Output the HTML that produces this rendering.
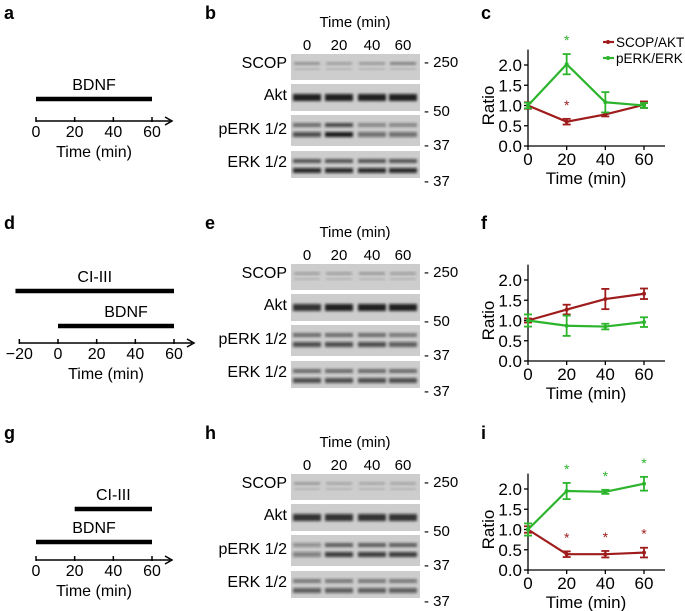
<!DOCTYPE html>
<html><head><meta charset="utf-8"><style>
body{margin:0;background:#fff}
svg{display:block;font-family:"Liberation Sans",sans-serif}
</style></head><body>
<svg id="fig" width="685" height="611" viewBox="0 0 685 611" xmlns="http://www.w3.org/2000/svg">
<defs><filter id="blur" x="-20%" y="-50%" width="140%" height="200%"><feGaussianBlur stdDeviation="1.2"/></filter></defs>
</svg>
<script>
const NS='http://www.w3.org/2000/svg';
const svg=document.getElementById('fig');
function mk(tag,attrs,parent,text){const e=document.createElementNS(NS,tag);for(const k in attrs)e.setAttribute(k,attrs[k]);if(text!==undefined)e.textContent=text;(parent||svg).appendChild(e);return e;}

// ---- chart data ----
const timePoints=[0,20,40,60];
const yTicks=[0.0,0.5,1.0,1.5,2.0];
const yTickLabels=['0.0','0.5','1.0','1.5','2.0'];
const xTickLabels=['0','20','40','60'];
const scopC=[1.0,0.6,0.78,1.02];
const scopCErr=[0.08,0.07,0.05,0.08];
const erkC=[1.0,2.02,1.08,1.0];
const erkCErr=[0.07,0.25,0.25,0.06];
const scopF=[1.0,1.27,1.53,1.66];
const scopFErr=[0.05,0.12,0.25,0.13];
const erkF=[1.0,0.87,0.85,0.96];
const erkFErr=[0.15,0.25,0.07,0.12];
const scopI=[1.0,0.39,0.39,0.43];
const scopIErr=[0.08,0.07,0.08,0.12];
const erkI=[1.0,1.95,1.93,2.13];
const erkIErr=[0.15,0.2,0.05,0.17];
const starsScopC=[false,true,false,false];
const starsErkC=[false,true,false,false];
const starsScopI=[false,true,true,true];
const starsErkI=[false,true,true,true];
const RED='#9e1c1c',GREEN='#2cb52c';

// panel letters
[['a',4,19],['b',205,19],['c',481,19],['d',4,229],['e',205,229],['f',481,229],['g',4,439],['h',205,439],['i',481,439]].forEach(([t,x,y])=>{
  const e=mk('text',{x:x,y:y,'font-size':18,'font-weight':'bold'},svg,t);
  
  
});

// ---- timelines ----
function timeline(name,base,ticks,x0,bars){
  const g=mk('g',{});
  
  
  const sx=v=>x0+v*(116/60);
  mk('line',{x1:sx(ticks[0]),y1:base,x2:sx(60)+18,y2:base,stroke:'#000','stroke-width':1.5},g);
  mk('path',{d:`M${sx(60)+13} ${base-4} L${sx(60)+20} ${base} L${sx(60)+13} ${base+4}`,fill:'none',stroke:'#000','stroke-width':1.5},g);
  ticks.forEach(t=>{
    mk('line',{x1:sx(t),y1:base-4,x2:sx(t),y2:base+1,stroke:'#000','stroke-width':1.5},g);
    mk('text',{x:sx(t),y:base+16,'font-size':16,'text-anchor':'middle'},g,t<0?'\u2212'+(-t):String(t));
  });
  mk('text',{x:sx(30)+ (ticks[0]<0?-10:0),y:base+36,'font-size':16,'text-anchor':'middle'},g,'Time (min)');
  bars.forEach(([lbl,a,b,y])=>{
    mk('line',{x1:sx(a),y1:y,x2:sx(b),y2:y,stroke:'#000','stroke-width':4.5},g);
    mk('text',{x:(sx(a)+sx(b))/2+ (lbl==='BDNF'&&a===0&&ticks[0]<0?10:0),y:y-9,'font-size':16,'text-anchor':'middle'},g,lbl);
  });
}
timeline('timeline-a',121,[0,20,40,60],36,[['BDNF',0,60,99]]);
timeline('timeline-d',343,[-20,0,20,40,60],58,[['CI-III',-22,60,291],['BDNF',0,60,326]]);
timeline('timeline-g',560,[0,20,40,60],36,[['CI-III',20,60,509],['BDNF',0,60,542]]);

// ---- blots ----
const laneX=[307,339,372,403];
function blot(name,dy,intens){
  const g=mk('g',{});
  
  
  mk('text',{x:355,y:dy+27,'font-size':15,'text-anchor':'middle'},g,'Time (min)');
  xTickLabels.forEach((t,i)=>mk('text',{x:laneX[i],y:dy+50,'font-size':15,'text-anchor':'middle'},g,t));
  const rows=[['SCOP',54,80,68],['Akt',84,111,100],['pERK 1/2',115,146,134],['ERK 1/2',151,178,167]];
  rows.forEach(([lbl,t,b,ly],ri)=>{
    mk('rect',{x:291,y:dy+t,width:129,height:b-t,fill:'#cdcdcd'},g);
    mk('text',{x:287,y:dy+ly,'font-size':16,'text-anchor':'end'},g,lbl);
    laneX.forEach((x,li)=>{
      const k=intens[ri][li];
      if(ri===0){
        mk('rect',{x:x-13,y:dy+t+8,width:26,height:3,fill:'#444','fill-opacity':0.55*k,filter:'url(#blur)'},g);
        mk('rect',{x:x-13,y:dy+t+14,width:26,height:2,fill:'#777','fill-opacity':0.35,filter:'url(#blur)'},g);
      } else if(ri===1){
        mk('rect',{x:x-14,y:dy+t+10,width:28,height:7,fill:'#111','fill-opacity':0.9*k,filter:'url(#blur)'},g);
      } else {
        mk('rect',{x:x-14,y:dy+t+8,width:28,height:4,fill:'#222','fill-opacity':0.7*k,filter:'url(#blur)'},g);
        mk('rect',{x:x-14,y:dy+t+17,width:28,height:5,fill:'#111','fill-opacity':0.85*k,filter:'url(#blur)'},g);
      }
    });
  });
  [['250',62],['50',111],['37',145],['37',181]].forEach(([m,y])=>{
    mk('text',{x:424,y:dy+y+5,'font-size':15},g,'- '+m);
  });
}
blot('western-blot-b',0,[[0.8,0.6,0.7,1],[1,1,1,1],[0.8,1.1,0.6,0.6],[1,1,1,1]]);
blot('western-blot-e',210,[[0.6,0.6,0.7,0.6],[0.9,1,1,1],[0.8,0.8,0.8,0.7],[0.8,0.8,0.8,0.8]]);
blot('western-blot-h',420,[[0.7,0.5,0.5,0.5],[0.9,0.9,0.9,0.9],[0.5,0.9,0.9,0.9],[0.7,0.7,0.7,0.7]]);

// ---- line charts ----
function chart(name,base,scop,scopE,erk,erkE,sS,sE,legend){
  const g=mk('g',{});
  
  
  const sx=v=>528+v*(116/60);
  const sy=v=>base-v*40.5;
  mk('line',{x1:528,y1:sy(2.38),x2:528,y2:base,stroke:'#000','stroke-width':1.3},g);
  mk('line',{x1:528,y1:base,x2:665,y2:base,stroke:'#000','stroke-width':1.3},g);
  yTicks.forEach((v,i)=>{
    mk('line',{x1:524,y1:sy(v),x2:528,y2:sy(v),stroke:'#000','stroke-width':1.3},g);
    mk('text',{x:522,y:sy(v)+6,'font-size':17,'text-anchor':'end'},g,yTickLabels[i]);
  });
  timePoints.forEach((t,i)=>{
    mk('line',{x1:sx(t),y1:base,x2:sx(t),y2:base+4,stroke:'#000','stroke-width':1.3},g);
    mk('text',{x:sx(t),y:base+19,'font-size':17,'text-anchor':'middle'},g,xTickLabels[i]);
  });
  mk('text',{x:586,y:base+38,'font-size':17,'text-anchor':'middle'},g,'Time (min)');
  mk('text',{x:0,y:0,'font-size':17,'text-anchor':'middle',transform:`translate(494 ${sy(1.0)}) rotate(-90)`},g,'Ratio');
  [[scop,scopE,RED,sS,'scop-akt'],[erk,erkE,GREEN,sE,'perk-erk']].forEach(([vals,errs,col,stars,nm])=>{
    const s=mk('g',{},g);
    
    
    mk('polyline',{points:vals.map((v,i)=>sx(timePoints[i])+','+sy(v)).join(' '),fill:'none',stroke:col,'stroke-width':2.2},s);
    vals.forEach((v,i)=>{
      const x=sx(timePoints[i]);
      mk('line',{x1:x,y1:sy(v-errs[i]),x2:x,y2:sy(v+errs[i]),stroke:col,'stroke-width':1.8},s);
      mk('line',{x1:x-4,y1:sy(v-errs[i]),x2:x+4,y2:sy(v-errs[i]),stroke:col,'stroke-width':1.8},s);
      mk('line',{x1:x-4,y1:sy(v+errs[i]),x2:x+4,y2:sy(v+errs[i]),stroke:col,'stroke-width':1.8},s);
      mk('circle',{cx:x,cy:sy(v),r:2,fill:col},s);
      if(stars[i]){
        const st=mk('text',{x:x,y:sy(v+errs[i])-9,'font-size':14,'text-anchor':'middle',fill:col},s,'*');
        
        
      }
    });
  });
  if(legend){
    [['SCOP/AKT',RED,47],['pERK/ERK',GREEN,63]].forEach(([l,c,y])=>{
      const e=mk('g',{},g);
      
      
      mk('line',{x1:603,y1:y-5,x2:614,y2:y-5,stroke:c,'stroke-width':2.2},e);
      mk('circle',{cx:608,cy:y-5,r:2,fill:c},e);
      mk('text',{x:616,y:y,'font-size':13.5},e,l);
    });
  }
}
chart('line-chart-c',146,scopC,scopCErr,erkC,erkCErr,starsScopC,starsErkC,true);
chart('line-chart-f',361,scopF,scopFErr,erkF,erkFErr,[false,false,false,false],[false,false,false,false],false);
chart('line-chart-i',570,scopI,scopIErr,erkI,erkIErr,starsScopI,starsErkI,false);
</script>
</body></html>
